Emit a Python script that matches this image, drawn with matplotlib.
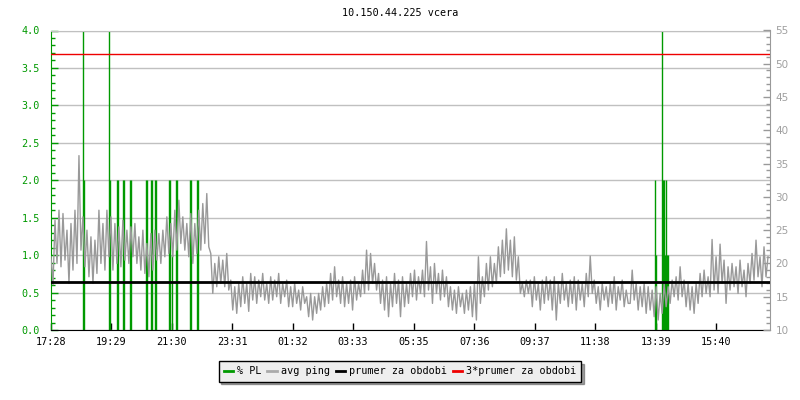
import numpy as np
import matplotlib
matplotlib.use("Agg")
import matplotlib.pyplot as plt
from matplotlib.lines import Line2D

# ---------------- data ----------------
title = "10.150.44.225 vcera"
start_label = "17:28"
tick_labels = ["17:28", "19:29", "21:30", "23:31", "01:32", "03:33",
               "05:35", "07:36", "09:37", "11:38", "13:39", "15:40"]
span_minutes = 1440
sample_step = 4  # minutes between ping samples

# avg ping [ms], one sample every 4 minutes starting 17:28
ping_ms = [
    21, 16.8, 26.5, 20, 28, 19.5, 27.5, 20.5, 25, 17,
    26, 19, 28, 20, 36.2, 22, 27, 19.5, 25, 18,
    24, 17, 23.5, 18.5, 28, 20, 26, 19, 28, 21,
    27, 19, 26, 20, 25.5, 19.5, 26.5, 20.5, 25, 20,
    25.5, 21, 26, 20, 24, 19, 25, 18.5, 23, 18,
    24.5, 19, 25, 20.5, 24.5, 20, 25, 21, 27, 21.5,
    26, 21, 28, 22, 29.5, 23, 27, 22, 26, 21,
    27.5, 20, 26, 21.5, 28, 22, 29, 23, 30.5, 22.5,
    21.5, 15.5, 20, 16.5, 21, 17, 20.5, 16.5, 21.5, 16,
    17.5, 13, 16.5, 12.5, 17, 13.5, 18, 14, 17, 12.8,
    18.5, 14.5, 18, 14, 17.5, 15, 18.5, 14.5, 17, 14,
    18, 14.5, 17.5, 15, 18.5, 14, 17, 15, 17.5, 13.5,
    16.5, 13.5, 17, 14, 16, 13, 16.5, 14, 15, 12,
    15.5, 11.5, 15, 12.5, 15.5, 13, 16.5, 13.5, 17, 14,
    18.5, 14.5, 19.5, 15, 17.5, 14, 18, 13.5, 17, 14,
    17.5, 13, 18, 14.5, 17, 15, 19, 15.5, 22, 16,
    21.5, 17, 20, 16, 18.5, 14, 17.5, 13, 18, 12,
    17, 13.5, 18.5, 14, 17.5, 12, 18, 13.5, 17, 14,
    18.5, 15, 19, 14.5, 18, 15.5, 19, 15, 23.3, 16,
    19.5, 14, 20, 15.5, 18.5, 14.5, 19, 15, 18, 13.5,
    16.5, 13, 16, 12.5, 16.5, 13.5, 15.5, 12.5, 16, 13,
    16.5, 12, 17, 11.5, 21, 14, 18, 15, 20, 16,
    21, 16.5, 20, 17, 22.5, 18, 23.5, 18.5, 25.2, 19,
    23.5, 18, 24, 17.5, 21, 15.5, 17, 15, 17.5, 15.5,
    17.5, 13.5, 18, 14.5, 17, 13, 17.5, 14, 18, 14.5,
    17.5, 13, 18, 11.5, 17, 14, 18.5, 14.5, 17, 13.5,
    17.5, 14, 18, 13, 17.5, 14.5, 17, 13.5, 18.5, 15,
    21.1, 15.5, 17.5, 14, 16.5, 13, 17, 14.5, 16.5, 13.5,
    17, 14, 18, 13, 16.5, 14.5, 17.5, 13.5, 16, 14,
    14, 19, 14.5, 17, 13, 16.5, 13.5, 17, 12.5, 16.5,
    13, 16, 12, 16.5, 11.5, 15.5, 12.5, 17, 13.5, 16.5,
    14, 17.5, 15, 18, 14.5, 19.5, 15, 17.5, 13.5, 17,
    13, 16.5, 12.5, 17, 14, 18.5, 15, 19, 15.5, 18,
    15, 23.6, 16, 21, 15.5, 22.9, 17, 20.5, 14, 19.5,
    16, 20, 16.5, 19.5, 15.5, 20.5, 16.5, 19, 15, 20,
    17, 21.5, 17.5, 23.5, 18, 21, 16.5, 22.5, 18, 21,
]

# packet loss [%]: minutes after 17:28 and value
pl_minutes = [64, 66, 116, 118, 132, 134, 144, 146, 158, 160,
              190, 192, 200, 202, 208, 210, 236, 238, 242, 250,
              252, 278, 280, 292, 294, 1210, 1212, 1224, 1226, 1228,
              1230, 1232, 1234, 1236]
pl_values = [4.0, 2.0, 4.0, 2.0, 2.0, 2.0, 2.0, 2.0, 2.0, 2.0,
             2.0, 2.0, 2.0, 2.0, 2.0, 2.0, 2.0, 2.0, 1.0, 2.0,
             2.0, 2.0, 2.0, 2.0, 2.0, 2.0, 1.0, 4.0, 2.0, 2.0,
             1.0, 2.0, 1.0, 1.0]

avg_period_ms = 17.15  # prumer za obdobi

legend_labels = ["% PL", "avg ping", "prumer za obdobi", "3*prumer za obdobi"]

# ---------------- styling ----------------
GREEN = "#009900"
GRAY = "#999999"
GRID = "#c0c0c0"
RED = "#ee0000"
MONO = "DejaVu Sans Mono"

def hm_to_min(s):
    h, m = map(int, s.split(":"))
    return h * 60 + m

t0 = hm_to_min(start_label)
tick_pos = [(hm_to_min(s) - t0) % 1440 for s in tick_labels]

t_ping = np.arange(len(ping_ms)) * sample_step

fig = plt.figure(figsize=(8, 4), dpi=100)
ax = fig.add_axes([51 / 800, 70 / 400, 719 / 800, 299.5 / 400])
ax.set_xlim(0, span_minutes)
ax.set_ylim(0, 4.0)

# grid
ax.set_yticks(np.arange(0, 4.01, 0.5))
ax.set_yticks(np.arange(0, 4.01, 0.1), minor=True)
ax.yaxis.grid(True, which="major", color=GRID, linewidth=1.0)
ax.xaxis.grid(False)
ax.set_axisbelow(True)

# packet loss bars
ax.vlines(pl_minutes, 0, pl_values, colors=GREEN, linewidth=1.0, zorder=2)

ax.set_xticks(tick_pos)
ax.set_xticklabels(tick_labels, fontfamily=MONO, fontsize=7.3)
ax.set_yticklabels([f"{v:.1f}" for v in np.arange(0, 4.01, 0.5)],
                   fontfamily=MONO, fontsize=7.3, color=GREEN)
ax.tick_params(axis="y", which="major", direction="in", length=5, width=1,
               color=GREEN, pad=8)
ax.tick_params(axis="y", which="minor", direction="in", length=3, width=1,
               color=GREEN)
ax.tick_params(axis="x", which="major", direction="in", length=5, width=1,
               color="black", pad=5)
ax.spines["left"].set_color(GREEN)
ax.spines["bottom"].set_color("black")
ax.spines["top"].set_color(GRID)
ax.spines["right"].set_visible(False)

# ping axis
ax2 = ax.twinx()
ax2.set_ylim(10, 55)
ax2.set_xlim(0, span_minutes)
ax2.plot(t_ping, ping_ms, color=GRAY, linewidth=1.0, zorder=3)
ax2.axhline(avg_period_ms, color="black", linewidth=2.0, zorder=4)
ax2.axhline(3 * avg_period_ms, color=RED, linewidth=1.0, zorder=4)
ax2.set_yticks(np.arange(10, 56, 5))
ax2.set_yticks(np.arange(10, 56, 1), minor=True)
ax2.set_yticklabels([str(v) for v in range(10, 56, 5)], fontfamily="DejaVu Sans",
                    fontsize=7.5, color="#a0a0a0")
ax2.tick_params(axis="y", which="major", direction="in", length=5, width=1,
                color=GRAY, pad=4)
ax2.tick_params(axis="y", which="minor", direction="in", length=3, width=1,
                color=GRAY)
ax2.spines["right"].set_color(GRAY)
ax2.spines["left"].set_visible(False)
ax2.spines["top"].set_visible(False)
ax2.spines["bottom"].set_visible(False)

fig.text(0.5, 1 - 13 / 400, title, ha="center", va="center",
         fontfamily=MONO, fontsize=7.3)

handles = [Line2D([], [], color=GREEN, linewidth=2),
           Line2D([], [], color="#aaaaaa", linewidth=2),
           Line2D([], [], color="black", linewidth=2),
           Line2D([], [], color=RED, linewidth=2)]
leg = fig.legend(handles, legend_labels, loc="center",
                 bbox_to_anchor=(400 / 800, 1 - 371.5 / 400), ncol=4,
                 frameon=True, fancybox=False, shadow=True, framealpha=1,
                 facecolor="#eeeeee", edgecolor="black",
                 prop={"family": MONO, "size": 7.3},
                 handlelength=0.9, handletextpad=0.4, columnspacing=0.6,
                 borderpad=0.5, borderaxespad=0)
leg.get_frame().set_linewidth(1.0)

fig.savefig("out.png", dpi=100)
